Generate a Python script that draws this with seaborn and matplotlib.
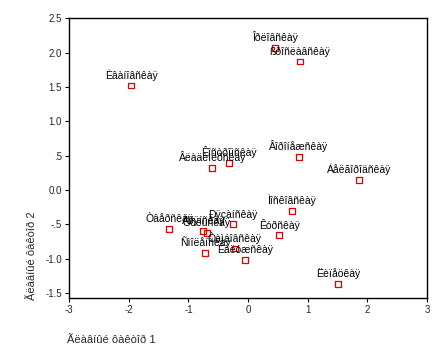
import pandas as pd
import matplotlib
matplotlib.use("Agg")
import matplotlib.pyplot as plt
import seaborn as sns

# region names (as shown in the chart) and factor scores
regions = ["Èâàíîâñêàÿ", "Îðëîâñêàÿ", "ßðîñëàâñêàÿ", "Âîðîíåæñêàÿ", "Áåëãîðîäñêàÿ",
           "Âëàäèìèðñêàÿ", "Êîñòðîìñêàÿ", "Ìîñêîâñêàÿ", "Êóðñêàÿ", "Ëèïåöêàÿ",
           "Êàëóæñêàÿ", "Ðÿçàíñêàÿ", "Òàìáîâñêàÿ", "Òâåðñêàÿ", "Ñìîëåíñêàÿ",
           "Áðÿíñêàÿ", "Òóëüñêàÿ"]
factor1 = [-1.96, 0.45, 0.87, 0.85, 1.86, -0.60, -0.32, 0.74, 0.52, 1.51,
           -0.05, -0.25, -0.22, -1.32, -0.72, -0.75, -0.69]
factor2 = [1.52, 2.07, 1.87, 0.48, 0.15, 0.32, 0.39, -0.31, -0.66, -1.37,
           -1.02, -0.50, -0.85, -0.57, -0.92, -0.60, -0.63]

xticks = [-3, -2, -1, 0, 1, 2, 3]
yticks = [-1.5, -1.0, -0.5, 0.0, 0.5, 1.0, 1.5, 2.0, 2.5]
ytick_labels = ["-1.5", "-1.0", "-.5", "0.0", ".5", "1.0", "1.5", "2.0", "2.5"]

df = pd.DataFrame({"region": regions, "f1": factor1, "f2": factor2})

sns.set_style("ticks")
plt.rcParams['font.family'] = ['Liberation Sans', 'DejaVu Sans']

fig = plt.figure(figsize=(4.45, 3.56), dpi=100)
ax = fig.add_axes([0.155, 0.163, 0.805, 0.786])

sns.scatterplot(data=df, x="f1", y="f2", marker="s", s=18,
                facecolor="none", edgecolor="#e00000", linewidth=0.9, ax=ax)

# labels sit just above each point, like the spss output
for _, r in df.iterrows():
    ax.annotate(r["region"], (r["f1"], r["f2"]), xytext=(0, 3.5),
                textcoords="offset points", ha="center", va="bottom",
                fontsize=7.5, color="black")

ax.set_xlim(-3, 3)
ax.set_ylim(-1.57, 2.5)
ax.set_xticks(xticks)
ax.set_xticklabels([str(t) for t in xticks])
ax.set_yticks(yticks)
ax.set_yticklabels(ytick_labels)
ax.tick_params(labelsize=7, length=3, width=0.8, color="black", pad=2)
for sp in ax.spines.values():
    sp.set_linewidth(1.0)
    sp.set_color("black")

ax.set_xlabel("")
ax.set_ylabel("")
fig.text(67 / 445, 1 - 340 / 356, "Ãëàâíûé ôàêòîð 1", fontsize=8,
         ha="left", va="center")
fig.text(32 / 445, 1 - 300 / 356, "Ãëàâíûé ôàêòîð 2", fontsize=8,
         rotation=90, ha="center", va="bottom")

fig.savefig("out.png", dpi=100)
